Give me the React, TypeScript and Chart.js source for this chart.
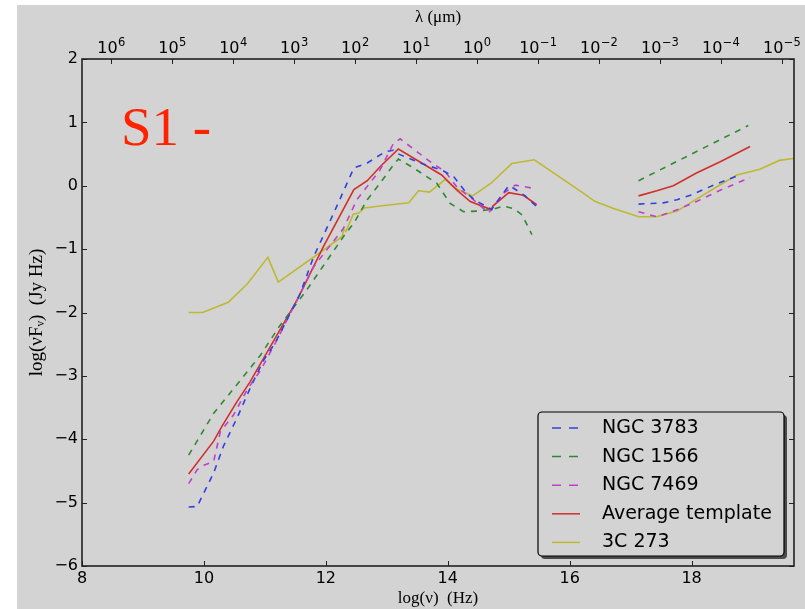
import React, { useEffect, useRef } from "react";
import { Chart, registerables } from "chart.js";

Chart.register(...registerables);

// ---------- data ----------
const X_TICKS = [8, 10, 12, 14, 16, 18];
const Y_TICKS = [-6, -5, -4, -3, -2, -1, 0, 1, 2];
const LAMBDA_EXPONENTS = [6, 5, 4, 3, 2, 1, 0, -1, -2, -3, -4, -5];
const LAMBDA_BASE = "10";
const LOG_C_UM = 14.477; // log10(c) with c in micron/s
const X_MIN = 8;
const X_MAX = 19.68;
const Y_MIN = -6;
const Y_MAX = 2;

const SERIES_LABELS = ["NGC 3783", "NGC 1566", "NGC 7469", "Average template", "3C 273"];

const NGC3783_X = [9.75, 9.89, 10.16, 10.32, 10.54, 10.76, 10.98, 11.17, 11.58, 11.8, 12.13, 12.46, 12.68, 12.98, 13.11, 13.17, 13.63, 13.9, 14.1, 14.31, 14.48, 14.72, 15.0, 15.08, 15.27, 15.46, 16.3, 17.13, 17.54, 17.76, 17.98, 18.36, 18.79];
const NGC3783_Y = [-5.07, -5.06, -4.53, -4.11, -3.67, -3.19, -2.75, -2.48, -1.7, -1.12, -0.43, 0.28, 0.36, 0.54, 0.56, 0.51, 0.33, 0.25, 0.14, -0.12, -0.25, -0.37, 0.0, -0.04, -0.16, -0.33, null, -0.29, -0.27, -0.22, -0.15, 0.01, 0.17];

const NGC1566_X = [9.75, 10.16, 10.54, 10.93, 11.23, 11.69, 12.29, 12.46, 12.68, 12.89, 13.11, 13.19, 13.44, 13.82, 14.04, 14.26, 14.48, 14.75, 14.91, 15.08, 15.22, 15.38, 16.3, 17.13, 18.93];
const NGC1566_Y = [-4.25, -3.59, -3.14, -2.67, -2.23, -1.64, -0.8, -0.59, -0.22, 0.04, 0.33, 0.42, 0.28, 0.04, -0.28, -0.41, -0.4, -0.37, -0.32, -0.36, -0.46, -0.77, null, 0.08, 0.95];

const NGC7469_X = [9.75, 9.89, 10.0, 10.16, 10.27, 10.49, 10.71, 10.93, 11.2, 11.8, 12.29, 12.51, 12.89, 13.11, 13.22, 13.71, 13.96, 14.15, 14.42, 14.67, 14.91, 15.11, 15.46, 16.3, 17.13, 17.43, 17.76, 18.08, 18.47, 18.96];
const NGC7469_Y = [-4.7, -4.48, -4.41, -4.35, -3.88, -3.61, -3.22, -2.91, -2.43, -1.28, -0.67, -0.22, 0.25, 0.67, 0.74, 0.38, 0.22, -0.02, -0.22, -0.43, -0.12, 0.01, -0.05, null, -0.41, -0.49, -0.38, -0.25, -0.07, 0.13];

const AVERAGE_X = [9.75, 10.16, 10.3, 10.54, 10.76, 10.95, 11.25, 11.53, 11.96, 12.46, 12.68, 12.89, 13.19, 13.9, 14.15, 14.37, 14.72, 14.74, 15.0, 15.24, 15.46, 16.3, 17.13, 17.43, 17.7, 18.08, 18.47, 18.96];
const AVERAGE_Y = [-4.55, -4.03, -3.79, -3.41, -3.09, -2.77, -2.27, -1.8, -0.96, -0.06, 0.08, 0.3, 0.58, 0.17, -0.07, -0.25, -0.38, -0.32, -0.11, -0.15, -0.3, null, -0.16, -0.08, 0.0, 0.2, 0.38, 0.62];

const QSO3C273_X = [9.75, 9.98, 10.4, 10.71, 11.05, 11.22, 11.78, 12.27, 12.29, 12.33, 12.45, 12.54, 12.63, 12.89, 13.36, 13.52, 13.7, 13.96, 14.12, 14.41, 14.71, 15.05, 15.42, 16.17, 16.42, 16.72, 17.13, 17.43, 17.76, 18.08, 18.41, 18.74, 19.12, 19.44, 19.67, 19.9];
const QSO3C273_Y = [-2.0, -2.0, -1.84, -1.55, -1.13, -1.52, -1.14, -0.8, -0.69, -0.72, -0.45, -0.43, -0.35, -0.32, -0.27, -0.08, -0.1, 0.1, -0.04, -0.16, 0.04, 0.35, 0.41, -0.08, -0.25, -0.36, -0.49, -0.49, -0.4, -0.21, -0.02, 0.17, 0.26, 0.4, 0.43, 0.46];

const ANNOTATION_TEXT = "S1 -";

// ---------- helpers ----------
const pts = (xs: number[], ys: (number | null)[]) => xs.map((x, i) => ({ x, y: ys[i] }));
const minus = (s: string) => s.replace("-", "\u2212");

const COLORS = ["#3340e0", "#2f8a2f", "#c040c8", "#d0302c", "#bdb934"];
const DASHED = [true, true, true, false, false];
const SERIES = [
  pts(NGC3783_X, NGC3783_Y),
  pts(NGC1566_X, NGC1566_Y),
  pts(NGC7469_X, NGC7469_Y),
  pts(AVERAGE_X, AVERAGE_Y),
  pts(QSO3C273_X, QSO3C273_Y),
];

const BG = "#d3d3d3";
const TICK_FONT = { family: "DejaVu Sans", size: 16 };
const TITLE_FONT = { family: "Liberation Serif", size: 17 };

const decorPlugin = {
  id: "decor",
  afterDatasetsDraw(chart: any) {
    const { ctx, chartArea: a, scales } = chart;
    ctx.save();
    // inward ticks
    const TL = 5;
    ctx.strokeStyle = "#222";
    ctx.lineWidth = 1;
    const seg = (x1: number, y1: number, x2: number, y2: number) => {
      ctx.beginPath();
      ctx.moveTo(x1, y1);
      ctx.lineTo(x2, y2);
      ctx.stroke();
    };
    X_TICKS.forEach((v) => {
      const px = Math.round(scales.x.getPixelForValue(v)) + 0.5;
      seg(px, a.bottom, px, a.bottom - TL);
    });
    LAMBDA_EXPONENTS.forEach((e) => {
      const px = Math.round(scales.x2.getPixelForValue(LOG_C_UM - e)) + 0.5;
      seg(px, a.top, px, a.top + TL);
    });
    Y_TICKS.forEach((v) => {
      const py = Math.round(scales.y.getPixelForValue(v)) + 0.5;
      seg(a.left, py, a.left + TL, py);
      seg(a.right, py, a.right - TL, py);
    });
    // frame
    ctx.lineWidth = 1.6;
    ctx.strokeRect(a.left, a.top, a.right - a.left, a.bottom - a.top);

    // top axis labels: 10 with superscript exponent
    ctx.fillStyle = "#000";
    ctx.textAlign = "left";
    ctx.textBaseline = "alphabetic";
    LAMBDA_EXPONENTS.forEach((e) => {
      const px = scales.x2.getPixelForValue(LOG_C_UM - e);
      const expText = minus(String(e));
      ctx.font = "16px 'DejaVu Sans'";
      const wb = ctx.measureText(LAMBDA_BASE).width;
      ctx.font = "11.5px 'DejaVu Sans'";
      const we = ctx.measureText(expText).width;
      const x0 = px - (wb + we) / 2;
      ctx.font = "16px 'DejaVu Sans'";
      ctx.fillText(LAMBDA_BASE, x0, a.top - 6);
      ctx.font = "11.5px 'DejaVu Sans'";
      ctx.fillText(expText, x0 + wb + 0.5, a.top - 13);
    });

    // annotation
    ctx.fillStyle = "#ff2200";
    ctx.font = "55px 'Liberation Serif'";
    ctx.fillText(ANNOTATION_TEXT, a.left + 39, a.top + 86);

    // legend
    const lw = 246, lh = 144;
    const lx = a.right - 10 - lw;
    const ly = a.bottom - 10 - lh;
    const rr = (x: number, y: number, w: number, h: number, r: number) => {
      ctx.beginPath();
      ctx.moveTo(x + r, y);
      ctx.lineTo(x + w - r, y);
      ctx.arcTo(x + w, y, x + w, y + r, r);
      ctx.lineTo(x + w, y + h - r);
      ctx.arcTo(x + w, y + h, x + w - r, y + h, r);
      ctx.lineTo(x + r, y + h);
      ctx.arcTo(x, y + h, x, y + h - r, r);
      ctx.lineTo(x, y + r);
      ctx.arcTo(x, y, x + r, y, r);
      ctx.closePath();
    };
    rr(lx + 3, ly + 3, lw, lh, 4);
    ctx.fillStyle = "#4a4a4a";
    ctx.fill();
    rr(lx, ly, lw, lh, 4);
    ctx.fillStyle = BG;
    ctx.fill();
    ctx.strokeStyle = "#000";
    ctx.lineWidth = 1.2;
    ctx.stroke();

    ctx.font = "19px 'DejaVu Sans'";
    ctx.textBaseline = "middle";
    chart.data.datasets.forEach((ds: any, i: number) => {
      const y = ly + 16 + i * 28.6;
      ctx.strokeStyle = ds.borderColor;
      ctx.lineWidth = 1.5;
      ctx.setLineDash(ds.borderDash && ds.borderDash.length ? [9, 8] : []);
      seg(lx + 14, y, lx + 42, y);
      ctx.setLineDash([]);
      ctx.fillStyle = "#000";
      ctx.fillText(ds.label, lx + 64, y);
    });
    ctx.restore();
  },
};

export default function App() {
  const ref = useRef<HTMLCanvasElement | null>(null);

  useEffect(() => {
    if (!ref.current) return;
    const chart = new Chart(ref.current, {
      type: "line",
      data: {
        datasets: SERIES.map((d, i) => ({
          label: SERIES_LABELS[i],
          data: d as any,
          borderColor: COLORS[i],
          backgroundColor: COLORS[i],
          borderWidth: 1.6,
          borderDash: DASHED[i] ? [6, 6] : [],
          pointRadius: 0,
          tension: 0,
          fill: false,
          spanGaps: false,
          xAxisID: "x",
          yAxisID: "y",
        })),
      },
      options: {
        animation: false,
        responsive: false,
        devicePixelRatio: 1,
        layout: { padding: { left: 0, right: 11, top: 0, bottom: 0 } },
        plugins: { legend: { display: false }, tooltip: { enabled: false } },
        scales: {
          x: {
            type: "linear",
            position: "bottom",
            min: X_MIN,
            max: X_MAX,
            afterBuildTicks: (s: any) => {
              s.ticks = X_TICKS.map((v) => ({ value: v }));
            },
            afterFit: (s: any) => {
              s.height = 43;
            },
            grid: { display: false, drawTicks: false },
            border: { display: false },
            ticks: {
              autoSkip: false,
              maxRotation: 0,
              minRotation: 0,
              padding: 3,
              color: "#000",
              font: TICK_FONT,
              callback: (v: any) => String(v),
            },
            title: {
              display: true,
              text: "log(\u03BD)  (Hz)",
              color: "#000",
              font: TITLE_FONT,
              padding: { top: 0, bottom: 0 },
            },
          },
          x2: {
            type: "linear",
            position: "top",
            min: X_MIN,
            max: X_MAX,
            afterBuildTicks: (s: any) => {
              s.ticks = LAMBDA_EXPONENTS.map((e) => ({ value: LOG_C_UM - e }));
            },
            afterFit: (s: any) => {
              s.height = 54;
            },
            grid: { display: false, drawTicks: false },
            border: { display: false },
            ticks: { display: false },
            title: {
              display: true,
              text: "\u03BB (\u03BCm)",
              color: "#000",
              font: TITLE_FONT,
              padding: { top: 2, bottom: 0 },
            },
          },
          y: {
            type: "linear",
            position: "left",
            min: Y_MIN,
            max: Y_MAX,
            afterBuildTicks: (s: any) => {
              s.ticks = Y_TICKS.map((v) => ({ value: v }));
            },
            afterFit: (s: any) => {
              s.width = 65;
            },
            grid: { display: false, drawTicks: false },
            border: { display: false },
            ticks: {
              padding: 4,
              color: "#000",
              font: TICK_FONT,
              callback: (v: any) => minus(String(v)),
            },
            title: {
              display: true,
              text: "log(\u03BDF\u1D65)  (Jy Hz)",
              color: "#000",
              font: { family: "Liberation Serif", size: 19 },
              padding: { top: 9, bottom: 0 },
            },
          },
        },
      } as any,
      plugins: [decorPlugin],
    });
    return () => chart.destroy();
  }, []);

  return (
    <div style={{ position: "fixed", left: 0, top: 0, width: 805, height: 609, background: "#fff", overflow: "hidden" }}>
      <div style={{ position: "absolute", left: 17, top: 5, width: 788, height: 604, background: BG }}>
        <canvas ref={ref} width={788} height={604} style={{ width: 788, height: 604, display: "block" }} />
      </div>
    </div>
  );
}
